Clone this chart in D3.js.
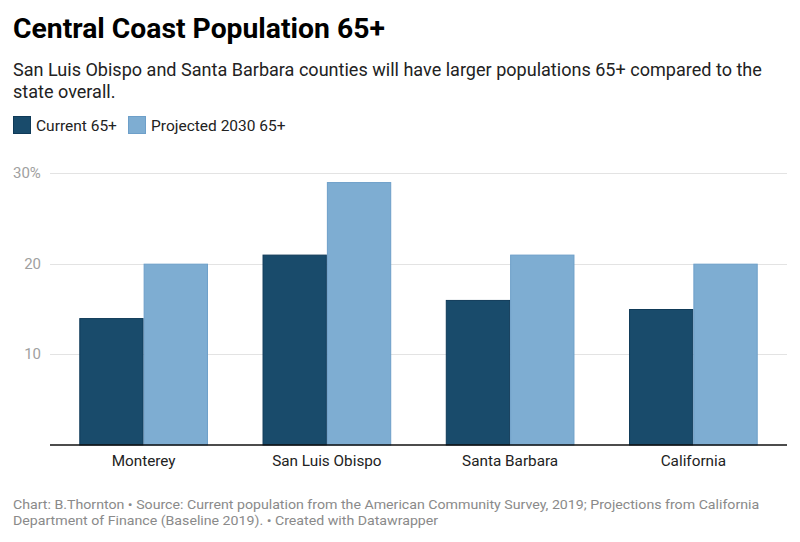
<!DOCTYPE html>
<html>
<head>
<meta charset="utf-8">
<script src="https://cdn.jsdelivr.net/npm/d3@7"></script>
<style>
  html, body { margin: 0; padding: 0; background: #fff; }
  svg { display: block; font-family: Roboto, "Noto Sans", sans-serif; }
</style>
</head>
<body>
<svg id="chart" width="800" height="542"></svg>
<script>
const categories = ["Monterey", "San Luis Obispo", "Santa Barbara", "California"];
const seriesNames = ["Current 65+", "Projected 2030 65+"];
const current65 = [14, 21, 16, 15];
const projected2030 = [20, 29, 21, 20];
const yTicks = [10, 20, 30];
const colors = ["#194b6b", "#7eadd2"];
const strokes = ["#0f3a58", "#6d9fc9"];

const title = "Central Coast Population 65+";
const subtitleLines = [
  "San Luis Obispo and Santa Barbara counties will have larger populations 65+ compared to the",
  "state overall."
];
const footerLines = [
  "Chart: B.Thornton \u2022 Source: Current population from the American Community Survey, 2019; Projections from California",
  "Department of Finance (Baseline 2019). \u2022 Created with Datawrapper"
];

const svg = d3.select("#chart");
const data = categories.map((c, i) => ({ cat: c, values: [current65[i], projected2030[i]] }));

function fitWidth(sel, baseSize, target) {
  const w = sel.node().getComputedTextLength();
  if (w > 0) sel.attr("font-size", baseSize * target / w);
}

// Title
const t = svg.append("text").attr("x", 13).attr("y", 38)
  .attr("font-size", 28).attr("font-weight", 700).attr("fill", "#000")
  .text(title);
fitWidth(t, 28, 372);

const subs = svg.selectAll("text.sub").data(subtitleLines).join("text")
  .attr("class", "sub").attr("x", 13).attr("y", (d, i) => 76 + i * 22)
  .attr("font-size", 18).attr("fill", "#222").text(d => d);
{
  const w = subs.nodes()[0].getComputedTextLength();
  if (w > 0) subs.attr("font-size", 18 * 749 / w);
}

// Legend
const legend = svg.append("g");
const legX = [13, 128];
seriesNames.forEach((s, i) => {
  legend.append("rect").attr("x", legX[i] + 0.5).attr("y", 116.5).attr("width", 17).attr("height", 17)
    .attr("fill", colors[i]).attr("stroke", strokes[i]).attr("stroke-width", 1);
  legend.append("text").attr("x", legX[i] + 23).attr("y", 131)
    .attr("font-size", 15.5).attr("fill", "#222").text(s);
});

// Scales
const plotLeft = 50, plotRight = 787;
const y = d3.scaleLinear().domain([0, 30]).range([445, 173]);
const x0 = d3.scaleBand().domain(categories).range([52, 785]).padding(0);
const x1 = d3.scaleBand().domain([0, 1]).range([0, x0.bandwidth()]).paddingInner(0).paddingOuter(0.424);

// Gridlines
svg.append("g").selectAll("line").data(yTicks).join("line")
  .attr("x1", plotLeft).attr("x2", plotRight)
  .attr("y1", d => Math.round(y(d)) + 0.5).attr("y2", d => Math.round(y(d)) + 0.5)
  .attr("stroke", "#e3e3e3").attr("stroke-width", 1);

// Y tick labels
svg.append("g").selectAll("text").data(yTicks).join("text")
  .attr("x", d => d === 30 ? 13 : 41)
  .attr("text-anchor", d => d === 30 ? "start" : "end")
  .attr("y", d => y(d) + 5)
  .attr("font-size", 15).attr("fill", "#a0a0a0")
  .text(d => d === 30 ? d + "%" : d);

// Bars
const groups = svg.append("g").selectAll("g").data(data).join("g")
  .attr("transform", d => `translate(${x0(d.cat)},0)`);
groups.selectAll("rect").data(d => d.values.map((v, i) => ({ v, i }))).join("rect")
  .attr("x", d => x1(d.i) + 0.5)
  .attr("width", x1.bandwidth() - 1)
  .attr("y", d => y(d.v) + 0.5)
  .attr("height", d => y(0) - y(d.v) - 0.5)
  .attr("fill", d => colors[d.i])
  .attr("stroke", d => strokes[d.i]).attr("stroke-width", 1);

// Baseline
svg.append("line").attr("x1", plotLeft).attr("x2", plotRight)
  .attr("y1", 445).attr("y2", 445).attr("stroke", "#111").attr("stroke-width", 1.5);

// X axis labels
const xAxis = d3.axisBottom(x0).tickSize(0).tickPadding(0);
const xg = svg.append("g").attr("transform", "translate(0,445)").call(xAxis);
xg.select(".domain").remove();
xg.selectAll("text").attr("font-size", 15.3).attr("fill", "#222")
  .attr("font-family", "Roboto, sans-serif").attr("dy", null).attr("y", 21);

// Footer (condensed look via horizontal scaling)
const footG = svg.append("g");
const foot = footG.selectAll("text.foot").data(footerLines).join("text")
  .attr("class", "foot").attr("x", 0).attr("y", (d, i) => 509 + i * 16.5)
  .attr("font-size", 13.5).attr("fill", "#8a8a8a").text(d => d);
const w0 = foot.nodes()[0].getComputedTextLength();
const sx = w0 > 0 ? 747 / w0 : 1;
footG.attr("transform", `translate(13,0) scale(${sx},1)`);
</script>
</body>
</html>
